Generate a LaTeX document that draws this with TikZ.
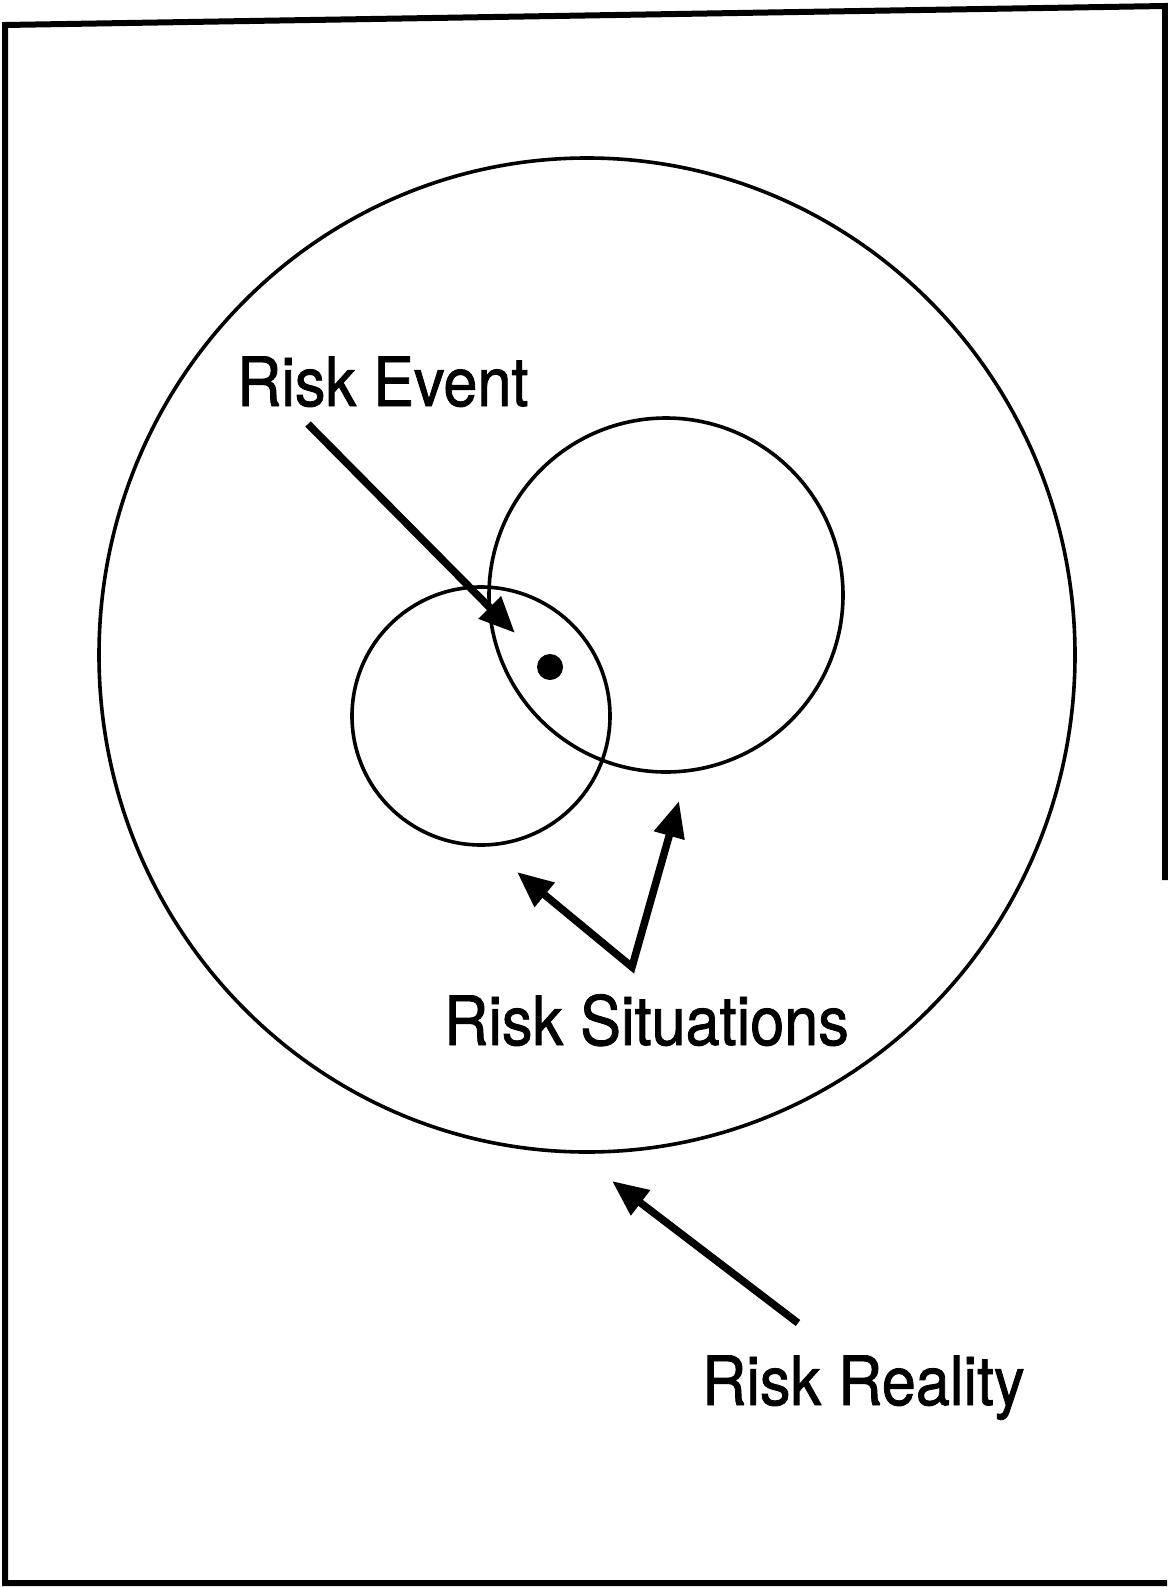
\documentclass[tikz,border=0pt]{standalone}
\usepackage{fontspec}
\setmainfont{TeX Gyre Heros}[FakeStretch=0.9, FakeBold=1.2]
\usetikzlibrary{arrows.meta}

\tikzset{
    risklabel/.style={anchor=base west, inner sep=0pt, font=\fontsize{68}{80}\selectfont},
    riskhead/.tip={Triangle[length=36pt,width=30pt]},
    riskarrow/.style={-riskhead, line width=7.5pt},
    ring/.style={line width=3.6pt}
}

\begin{document}
\begin{tikzpicture}[x=1pt,y=-1pt]
            \useasboundingbox (0,0) rectangle (1167,1587);

            % frame
            \draw[line width=6pt] (1165,880) -- (1165,6) -- (5,25) -- (5,1583) -- (1167,1583);

            % circles
            \draw[ring] (587,655) ellipse [x radius=488, y radius=497];
            \draw[ring] (481,716) circle [radius=129];
            \draw[ring] (666,595) circle [radius=177];
            \fill (550,667) circle [radius=13];

            \node[risklabel] (event)      at (237,406)  {Risk Event};
            \node[risklabel] (situations) at (444,1045) {Risk Situations};
            \node[risklabel] (reality)    at (702,1405) {Risk Reality};

            \coordinate (eventtail)   at (308,424);
            \coordinate (eventtip)    at (515,633);
            \coordinate (fork)        at (632,967);
            \coordinate (lefttip)     at (517,872);
            \coordinate (righttip)    at (679,801);
            \coordinate (realitytail) at (798,1323);
            \coordinate (realitytip)  at (612,1181);

            \draw[riskarrow] (eventtail) -- (eventtip);
            \draw[riskarrow, riskhead-riskhead, line join=miter] (lefttip) -- (fork) -- (righttip);
            \draw[riskarrow] (realitytail) -- (realitytip);
\end{tikzpicture}
\end{document}
